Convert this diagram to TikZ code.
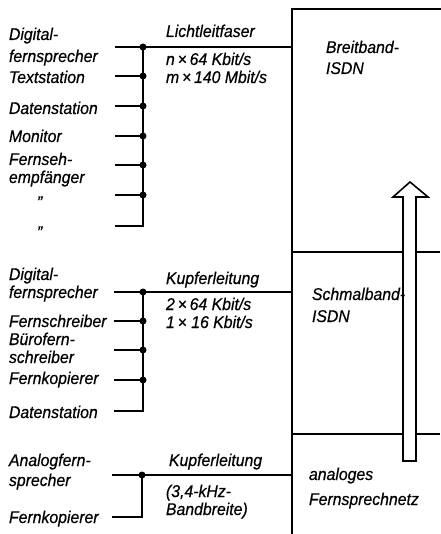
\documentclass[tikz,border=0pt]{standalone}
\usepackage{fontspec}
\setmainfont{Liberation Sans}[ItalicFeatures={FakeStretch=0.93,FakeBold=0.5}]
\begin{document}
\begin{tikzpicture}[x=1pt,y=-1pt,line width=2pt,
  lbl/.style={anchor=base west,inner sep=0pt,font=\fontsize{17}{19}\selectfont\itshape},
  jdot/.style={circle,fill=black,draw=none,inner sep=0pt,minimum size=7pt},
  wire/.style={line width=2pt,line cap=rect}]
\useasboundingbox (0,0) rectangle (440,534);

% network box
\coordinate (bTL) at (292,9);
\coordinate (bTR) at (440,9);
\coordinate (bBL) at (292,534);
\coordinate (d1L) at (292,252);
\coordinate (d1R) at (440,252);
\coordinate (d2L) at (292,434);
\coordinate (d2R) at (440,434);
\draw[wire] (bBL) -- (bTL) -- (bTR);
\draw[line width=1.6pt] (d1L) -- (d1R);
\draw[line width=1.6pt] (d2L) -- (d2R);

% upward arrow
\draw[line width=1.6pt,fill=white,line join=miter]
  (403,461) -- (403,197) -- (393,197) -- (410,182) -- (428,197) -- (416,197) -- (416,461) -- cycle;

% group 1
\coordinate (boxA) at (292,47);
\foreach \y [count=\i] in {47,76,106,136,165,195} {
  \coordinate (a\i) at (116,\y);
  \node[jdot] (ad\i) at (143,\y) {};
  \draw[wire] (a\i) -- (ad\i.center);
}
\coordinate (a7) at (116,226);
\coordinate (ac) at (143,226);
\draw[wire] (a7) -- (ac) -- (ad1.center);
\draw[wire] (ad1.center) -- (boxA);

% group 2
\coordinate (boxB) at (292,292);
\foreach \y [count=\i] in {292,321,350,380} {
  \coordinate (b\i) at (115,\y);
  \node[jdot] (bd\i) at (143,\y) {};
  \draw[wire] (b\i) -- (bd\i.center);
}
\coordinate (b5) at (115,411);
\coordinate (bc) at (143,411);
\draw[wire] (b5) -- (bc) -- (bd1.center);
\draw[wire] (bd1.center) -- (boxB);

% group 3
\coordinate (boxC) at (292,475);
\coordinate (c1) at (113,475);
\node[jdot] (cd1) at (142,475) {};
\draw[wire] (c1) -- (cd1.center);
\coordinate (c2) at (113,517);
\coordinate (cc) at (142,517);
\draw[wire] (c2) -- (cc) -- (cd1.center);
\draw[wire] (cd1.center) -- (boxC);

% labels group 1
\node[lbl] (t1a) at (8,40) {Digital-};
\node[lbl] (t1b) at (8,62) {fernsprecher};
\node[lbl] (t2) at (8,83) {Textstation};
\node[lbl] (t3) at (8,114) {Datenstation};
\node[lbl] (t4) at (8,142) {Monitor};
\node[lbl] (t5a) at (8,165) {Fernseh-};
\node[lbl] (t5b) at (8,183) {empfänger};
\node[lbl] (t6) at (36,208) {"};
\node[lbl] (t7) at (36,238) {"};
\node[lbl] (l1) at (165,37) {Lichtleitfaser};
\node[lbl] (l2) at (165,65) {n\,×\,64 Kbit/s};
\node[lbl] (l3) at (165,83) {m\,×\,140 Mbit/s};
\node[lbl] (n1a) at (325,53) {Breitband-};
\node[lbl] (n1b) at (325,74) {ISDN};

% labels group 2
\node[lbl] (u1a) at (8,280) {Digital-};
\node[lbl] (u1b) at (8,298) {fernsprecher};
\node[lbl] (u2) at (8,327) {Fernschreiber};
\node[lbl] (u3a) at (8,345) {Bürofern-};
\node[lbl] (u3b) at (8,363) {schreiber};
\node[lbl] (u4) at (8,384) {Fernkopierer};
\node[lbl] (u5) at (8,418) {Datenstation};
\node[lbl] (k1) at (165,284) {Kupferleitung};
\node[lbl] (k2) at (165,310) {2\,×\,64 Kbit/s};
\node[lbl] (k3) at (165,328) {1\,× 16 Kbit/s};
\node[lbl] (n2a) at (311,300) {Schmalband-};
\node[lbl] (n2b) at (311,322) {ISDN};

% labels group 3
\node[lbl] (v1a) at (8,466) {Analogfern-};
\node[lbl] (v1b) at (8,486) {sprecher};
\node[lbl] (v2) at (8,523) {Fernkopierer};
\node[lbl] (m1) at (168,466) {Kupferleitung};
\node[lbl] (m2) at (165,497) {(3,4-kHz-};
\node[lbl] (m3) at (165,515) {Bandbreite)};
\node[lbl] (n3a) at (308,480) {analoges};
\node[lbl] (n3b) at (308,505) {Fernsprechnetz};
\end{tikzpicture}
\end{document}
